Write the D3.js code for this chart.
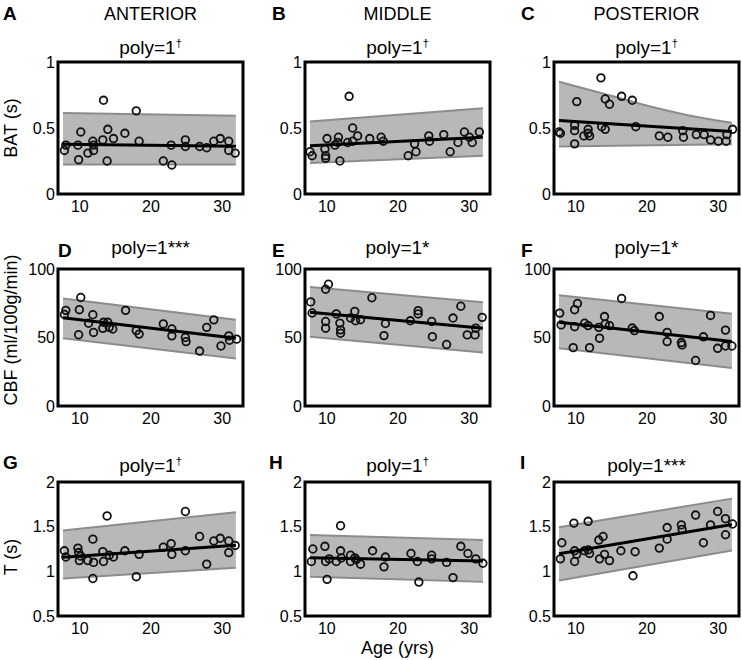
<!DOCTYPE html>
<html><head><meta charset="utf-8">
<script src="https://cdn.jsdelivr.net/npm/d3@7/dist/d3.min.js"></script>
<style>
body{margin:0;background:#fff}
text{font-family:"Liberation Sans",Arial,Helvetica,sans-serif;fill:#000}
</style>
</head><body>
<svg id="chart" width="742" height="660"></svg>
<script>
// ---------- DATA ----------
const columns = ["ANTERIOR", "MIDDLE", "POSTERIOR"];
const rowLabels = ["BAT (s)", "CBF (ml/100g/min)", "T (s)"];
const xLabel = "Age (yrs)";
const xTicks = [10, 20, 30];
const xTickLabels = ["10", "20", "30"];
const yDomains = [[0, 1], [0, 100], [0.5, 2]];
const yTicks = [[0, 0.5, 1], [0, 50, 100], [0.5, 1, 1.5, 2]];
const yTickLabels = [["0", "0.5", "1"], ["0", "50", "100"], ["0.5", "1", "1.5", "2"]];
const letters = ["A", "B", "C", "D", "E", "F", "G", "H", "I"];
const titleMain = ["poly=1", "poly=1", "poly=1", "poly=1", "poly=1", "poly=1", "poly=1", "poly=1", "poly=1"];
const titleMark = ["†", "†", "†", "***", "*", "*", "†", "†", "***"];

const ageA = [7.9,8.1,9.8,9.9,10.2,11.2,11.9,12,12,13.4,13.3,14,13.9,14.8,16.4,18,18.4,21.8,23,22.9,24.9,24.9,26.9,27.9,28.9,29.8,31,31,31.9];
const valA = [0.33,0.37,0.37,0.26,0.47,0.31,0.40,0.37,0.33,0.71,0.41,0.49,0.25,0.42,0.46,0.63,0.40,0.25,0.22,0.37,0.41,0.36,0.36,0.35,0.40,0.42,0.40,0.33,0.31];
const ageB = [7.7,8.0,9.8,9.9,9.9,10.1,11.2,11.7,11.9,11.6,13.2,13.0,13.7,13.7,14.4,16.1,17.7,18.0,21.5,22.4,22.6,24.4,24.5,26.5,27.4,28.5,29.4,30.1,30.5,31.5];
const valB = [0.32,0.29,0.34,0.29,0.27,0.42,0.37,0.43,0.25,0.39,0.74,0.39,0.50,0.40,0.44,0.42,0.43,0.40,0.29,0.38,0.32,0.44,0.40,0.45,0.32,0.39,0.47,0.43,0.39,0.47];
const ageC = [7.7,7.9,9.9,9.9,9.9,10.2,11.2,11.8,11.8,12,13.6,13.7,14.2,14.2,14.8,16.5,18,18.5,21.8,23,25.1,25.2,27,28.1,29,30.1,31.2,31.3,32.1];
const valC = [0.47,0.46,0.52,0.48,0.38,0.70,0.44,0.46,0.49,0.44,0.88,0.51,0.49,0.72,0.68,0.74,0.71,0.51,0.44,0.43,0.48,0.43,0.45,0.45,0.41,0.40,0.40,0.45,0.49];
const ageD = [7.9,8.1,10,10.2,9.9,11.3,11.9,12,13.4,13.3,14,14.2,14.7,16.5,18,18.4,21.8,23,23,24.9,25,26.9,27.9,28.9,29.9,31,31.1,32.1];
const valD = [66.8,69.8,70.3,79.2,52,60.4,66.6,53.7,61.1,56.7,61.1,57.4,56.2,69.8,55,52.5,59.9,56.2,51.2,50,47,40.1,57.4,62.9,43.8,51.2,48,48.8];
const ageE = [7.8,8.0,9.9,10.3,9.9,9.9,11.4,11.9,12,12,13.4,14,14.1,14.8,16.4,18.1,18.3,21.8,22.9,22.9,24.8,24.9,26.9,27.8,28.9,29.8,30.9,31,31.9];
const valE = [76,67.9,85.2,88.9,61.7,56.8,67.2,60.5,55.6,53.1,64.2,69.1,62.2,63,79,51.4,60.2,62.2,69.6,67.2,61.7,50.6,44.9,64.2,72.8,51.9,51.9,56.8,64.7];
const ageF = [7.8,8.0,9.9,10.3,9.9,9.7,11.3,11.8,12,13.3,13.4,14.1,14.2,14.8,16.5,18,18.3,21.8,22.9,22.9,24.9,25,26.9,28,29,30,31.1,31.1,32];
const valF = [67.8,59.2,70.3,74.8,57.9,42.6,60.4,58.7,42.6,57.4,49.5,65.3,59.9,58.7,78.5,56.9,55,65.3,53.7,47,46.3,44.6,33.2,50.5,66.1,42.1,43.8,55.4,43.8];
const ageG = [7.9,8.1,9.8,9.9,10,10.2,11.2,11.9,12,11.9,13.3,13.4,13.9,14.2,14.8,16.4,18,18.4,21.8,22.9,23,24.9,24.9,26.9,27.9,28.9,29.8,31,31,31.9];
const valG = [1.23,1.16,1.26,1.21,1.12,1.17,1.12,1.36,1.10,0.92,1.22,1.11,1.62,1.18,1.16,1.23,0.94,1.19,1.27,1.31,1.19,1.67,1.23,1.39,1.08,1.34,1.37,1.34,1.21,1.29];
const ageH = [7.9,8.1,9.8,9.9,10.1,10.4,11.4,12,12,12.1,13.4,13.4,14,14.2,14.8,16.5,18.1,18.3,21.9,22.8,23,24.8,24.8,26.9,27.8,28.9,29.9,31,32];
const valH = [1.11,1.25,1.28,1.11,0.91,1.14,1.11,1.51,1.23,1.15,1.18,1.11,1.15,1.13,1.08,1.23,1.05,1.16,1.20,1.11,0.88,1.18,1.14,1.10,0.93,1.28,1.20,1.14,1.09];
const ageI = [7.9,8.1,9.8,9.9,9.9,10.2,11.3,11.8,11.8,12,13.3,13.4,13.9,14.1,14.8,16.4,18.1,18.4,21.8,22.9,22.9,24.9,25,26.9,28,29,30,31.1,31.1,32.1];
const valI = [1.14,1.32,1.54,1.23,1.11,1.19,1.23,1.56,1.24,1.20,1.35,1.14,1.39,1.19,1.12,1.23,0.95,1.22,1.26,1.49,1.36,1.52,1.47,1.63,1.32,1.52,1.67,1.59,1.41,1.53];

// fitted line and confidence band (values at the given ages)
const fitAge = [7.7, 32];
const fitA = [0.377, 0.361], hiA = [0.613, 0.593], loA = [0.224, 0.224];
const fitB = [0.366, 0.43],  hiB = [0.55, 0.65],   loB = [0.234, 0.29];
const fitC = [0.556, 0.474], loC = [0.36, 0.377];
const bandAgeC = [7.7, 14, 20, 26, 32];
const hiC = [0.85, 0.76, 0.67, 0.595, 0.54];
const fitD = [64.4, 49.5], hiD = [78.5, 62.9], loD = [49.5, 34.7];
const fitE = [68.4, 56.8], hiE = [86.9, 75.8], loE = [50.6, 39.0];
const fitF = [61.1, 47.0], hiF = [80.9, 67.3], loF = [42.1, 27.7];
const fitG = [1.159, 1.293], hiG = [1.456, 1.661], loG = [0.92, 1.04];
const fitH = [1.152, 1.115], hiH = [1.407, 1.351], loH = [0.939, 0.882];
const fitI = [1.196, 1.524], hiI = [1.494, 1.814], loI = [0.898, 1.233];

// ---------- LAYOUT ----------
const colLeft = [58, 305, 554];
const plotW = 185;
const rowTop = [62, 269, 482];
const rowBottom = [194, 406, 616];
const xDomain = [7, 33];

const toPts = (xs, ys) => xs.map((x, i) => [x, ys[i]]);
const linInterp = (xs, ys) => xs.map((x, i) => [x, ys[i]]);

const panels = [
  {age: ageA, val: valA, fit: toPts(fitAge, fitA), hi: toPts(fitAge, hiA), lo: toPts(fitAge, loA)},
  {age: ageB, val: valB, fit: toPts(fitAge, fitB), hi: toPts(fitAge, hiB), lo: toPts(fitAge, loB)},
  {age: ageC, val: valC, fit: toPts(fitAge, fitC), hi: toPts(bandAgeC, hiC), lo: toPts(fitAge, loC)},
  {age: ageD, val: valD, fit: toPts(fitAge, fitD), hi: toPts(fitAge, hiD), lo: toPts(fitAge, loD)},
  {age: ageE, val: valE, fit: toPts(fitAge, fitE), hi: toPts(fitAge, hiE), lo: toPts(fitAge, loE)},
  {age: ageF, val: valF, fit: toPts(fitAge, fitF), hi: toPts(fitAge, hiF), lo: toPts(fitAge, loF)},
  {age: ageG, val: valG, fit: toPts(fitAge, fitG), hi: toPts(fitAge, hiG), lo: toPts(fitAge, loG)},
  {age: ageH, val: valH, fit: toPts(fitAge, fitH), hi: toPts(fitAge, hiH), lo: toPts(fitAge, loH)},
  {age: ageI, val: valI, fit: toPts(fitAge, fitI), hi: toPts(fitAge, hiI), lo: toPts(fitAge, loI)}
];

const letterPos = [[3,20],[272,20],[521,20],[58,257],[272,257],[521,257],[3,469],[269,469],[520,469]];
const titleBase = [54, 254, 472];

const svg = d3.select("#chart");

// column headers
columns.forEach((c, j) => {
  svg.append("text").attr("x", colLeft[j] + plotW / 2).attr("y", 20)
    .attr("text-anchor", "middle").attr("font-size", 18).text(c);
});

// y labels
const yLabelCenter = [128, 330, 557];
rowLabels.forEach((t, r) => {
  svg.append("text")
    .attr("transform", `translate(17,${yLabelCenter[r]}) rotate(-90)`)
    .attr("text-anchor", "middle").attr("font-size", 18).text(t);
});

// x label
svg.append("text").attr("x", colLeft[1] + plotW / 2).attr("y", 654)
  .attr("text-anchor", "middle").attr("font-size", 18).text(xLabel);

panels.forEach((p, k) => {
  const r = Math.floor(k / 3), c = k % 3;
  const x = d3.scaleLinear().domain(xDomain).range([colLeft[c], colLeft[c] + plotW]);
  const y = d3.scaleLinear().domain(yDomains[r]).range([rowBottom[r], rowTop[r]]);
  const g = svg.append("g");

  // band: interpolate both edges on a shared grid for the area
  const hiF = d3.scaleLinear().domain(p.hi.map(d => d[0])).range(p.hi.map(d => d[1]));
  const loF = d3.scaleLinear().domain(p.lo.map(d => d[0])).range(p.lo.map(d => d[1]));
  const grid = Array.from(new Set([...p.hi.map(d => d[0]), ...p.lo.map(d => d[0])])).sort((a, b) => a - b);
  const area = d3.area().x(d => x(d)).y0(d => y(loF(d))).y1(d => y(hiF(d))).curve(d3.curveMonotoneX);
  g.append("path").datum(grid).attr("d", area).attr("fill", "#b8b8b8");
  const edge = d3.line().x(d => x(d[0])).y(d => y(d[1])).curve(d3.curveMonotoneX);
  g.append("path").datum(p.hi).attr("d", edge).attr("fill", "none").attr("stroke", "#8c8c8c").attr("stroke-width", 2);
  g.append("path").datum(p.lo).attr("d", edge).attr("fill", "none").attr("stroke", "#8c8c8c").attr("stroke-width", 2);

  // points
  g.selectAll("circle").data(p.age.map((a, i) => [a, p.val[i]])).enter().append("circle")
    .attr("cx", d => x(d[0])).attr("cy", d => y(d[1])).attr("r", 3.8)
    .attr("fill", "none").attr("stroke", "#111").attr("stroke-width", 1.8);

  // fit line
  g.append("path").datum(p.fit).attr("d", d3.line().x(d => x(d[0])).y(d => y(d[1])))
    .attr("fill", "none").attr("stroke", "#000").attr("stroke-width", 3);

  // axes (labels only)
  const ax = g.append("g").attr("transform", `translate(0,${rowBottom[r]})`)
    .call(d3.axisBottom(x).tickValues(xTicks).tickSize(0).tickPadding(7)
      .tickFormat((d, i) => xTickLabels[i]));
  ax.select(".domain").remove();
  ax.selectAll("text").attr("font-size", 16).attr("font-family", '"Liberation Sans",Arial,sans-serif').attr("fill", "#000");

  const ay = g.append("g").attr("transform", `translate(${colLeft[c]},0)`)
    .call(d3.axisLeft(y).tickValues(yTicks[r]).tickSize(0).tickPadding(3)
      .tickFormat((d, i) => yTickLabels[r][i]));
  ay.select(".domain").remove();
  ay.selectAll("text").attr("font-size", 16).attr("font-family", '"Liberation Sans",Arial,sans-serif').attr("fill", "#000");

  // frame
  g.append("rect").attr("x", colLeft[c]).attr("y", rowTop[r])
    .attr("width", plotW).attr("height", rowBottom[r] - rowTop[r])
    .attr("fill", "none").attr("stroke", "#000").attr("stroke-width", 3);

  // title
  const t = g.append("text").attr("x", colLeft[c] + plotW / 2).attr("y", titleBase[r])
    .attr("text-anchor", "middle").attr("font-size", 19);
  t.append("tspan").text(titleMain[k]);
  if (titleMark[k] === "†") {
    t.append("tspan").attr("font-size", 11).attr("dy", -7).text(titleMark[k]);
  } else {
    t.append("tspan").text(titleMark[k]);
  }

  // panel letter
  svg.append("text").attr("x", letterPos[k][0]).attr("y", letterPos[k][1])
    .attr("font-size", 19).attr("font-weight", "bold").text(letters[k]);
});
</script>
</body></html>
